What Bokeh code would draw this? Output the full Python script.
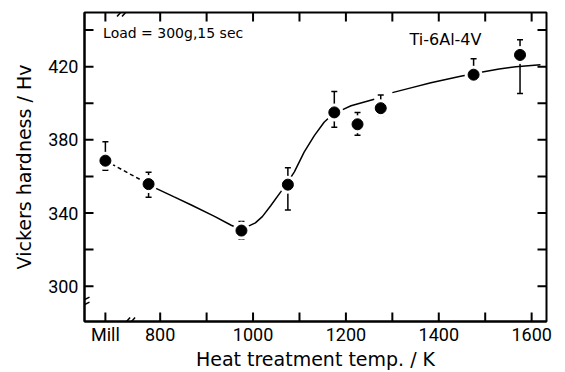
from bokeh.plotting import figure
from bokeh.models import (ColumnDataSource, FixedTicker, Range1d,
                          Whisker, TeeHead, Label)
from bokeh.embed import file_html
from bokeh.resources import INLINE

# ---------------- data ----------------
MILL_X = 682  # position of the "Mill" (as-received) category on the broken axis

temps    = [MILL_X, 775, 975, 1075, 1175, 1225, 1275, 1475, 1575]
hv       = [368.6, 355.8, 330.4, 355.5, 395.0, 388.5, 397.3, 415.6, 426.4]
hv_upper = [379.0, 362.3, 335.4, 364.8, 406.4, 395.0, 404.5, 424.3, 434.7]
hv_lower = [363.4, 348.6, 325.8, 341.7, 386.9, 382.5, 393.3, 411.6, 405.3]

# hand-drawn trend curve (solid)
NAN = float("nan")
curve_temp = [775, 791, 830, 867, 917, 953, 975, 989, 1005, 1020, 1038, 1060,
              1075, 1089, 1110, 1132, 1153, 1168, 1175, 1193, 1211, 1261, NAN,
              1300, 1340, 1383, 1447, 1497, 1530, 1566, 1619]
curve_hv = [355.8, 353.5, 348.8, 344.4, 338.2, 333.3, 330.8, 332.7, 334.6,
            338.0, 344.0, 351.7, 357.0, 362.5, 373.3, 382.3, 389.6, 393.2,
            395.0, 396.5, 398.6, 402.2, NAN, 405.8, 408.4, 411.2, 414.8,
            417.2, 418.7, 419.9, 421.1]

x_label_ticks = [MILL_X, 800, 1000, 1200, 1400, 1600]
x_tick_labels = ["Mill", "800", "1000", "1200", "1400", "1600"]
x_all_ticks = [MILL_X, 800, 900, 1000, 1100, 1200, 1300, 1400, 1500, 1600]
y_major = [300, 340, 380, 420]
y_minor = [320, 360, 400, 440]

x_lo, x_hi = 637, 1632
y_lo, y_hi = 280.7, 449.6
FRAME_W, FRAME_H = 462, 310

# ---------------- figure ----------------
p = figure(width=565, height=372, output_backend="svg", toolbar_location=None,
           x_range=Range1d(x_lo, x_hi), y_range=Range1d(y_lo, y_hi),
           min_border_left=84, min_border_right=19, min_border_top=12,
           min_border_bottom=50)
p.background_fill_color = "white"
p.border_fill_color = "white"
p.xgrid.visible = False
p.ygrid.visible = False
p.outline_line_color = "black"
p.outline_line_width = 2

TICK_FONT = "Roboto"
LABEL_FONT = "DejaVu Sans"

for ax in (p.xaxis[0], p.yaxis[0]):
    ax.axis_line_color = "black"
    ax.axis_line_width = 2
    ax.major_tick_in = 0
    ax.major_tick_out = 0
    ax.minor_tick_in = 0
    ax.minor_tick_out = 0
    ax.major_label_text_font = TICK_FONT
    ax.major_label_text_font_size = "18px"
    ax.major_label_text_color = "black"
    ax.axis_label_text_font = LABEL_FONT
    ax.axis_label_text_font_size = "19px"
    ax.axis_label_text_font_style = "normal"
    ax.axis_label_text_color = "black"

xa = p.xaxis[0]
xa.ticker = FixedTicker(ticks=x_label_ticks, minor_ticks=[])
xa.major_label_overrides = {t: l for t, l in zip(x_label_ticks, x_tick_labels)}
xa.axis_label = "Heat treatment temp. / K"
xa.major_label_standoff = 2
xa.axis_label_standoff = 0

ya = p.yaxis[0]
ya.ticker = FixedTicker(ticks=y_major, minor_ticks=[])
ya.axis_label = "Vickers hardness / Hv"
ya.major_label_standoff = 6
ya.axis_label_standoff = 10

xpx = (x_hi - x_lo) / FRAME_W   # data units per pixel (x)
ypx = (y_hi - y_lo) / FRAME_H   # data units per pixel (y)

# ---------------- inward tick marks on all four sides ----------------
TL = 9  # tick length in px
tx0, ty0, tx1, ty1 = [], [], [], []
for t in x_all_ticks:
    tx0 += [t, t]
    tx1 += [t, t]
    ty0 += [y_lo, y_hi]
    ty1 += [y_lo + TL * ypx, y_hi - TL * ypx]
for t in y_major + y_minor:
    ty0 += [t, t]
    ty1 += [t, t]
    tx0 += [x_lo, x_hi]
    tx1 += [x_lo + TL * xpx, x_hi - TL * xpx]
p.segment(x0=tx0, y0=ty0, x1=tx1, y1=ty1, line_color="black", line_width=2)

# ---------------- marks ----------------
src = ColumnDataSource(dict(t=temps, hv=hv, up=hv_upper, lo=hv_lower))

# dashed connection from mill-annealed to first treatment
p.line(x=temps[:2], y=hv[:2], line_color="black", line_width=1.5,
       line_dash="4 3")
# trend curve
p.line(x=curve_temp, y=curve_hv, line_color="black", line_width=1.5)

# white halo around the points (gaps in the curve)
p.scatter(x="t", y="hv", source=src, size=18, fill_color="white",
          line_color=None)

# error bars
w = Whisker(base="t", upper="up", lower="lo", source=src,
            line_color="black", line_width=1.5,
            upper_head=TeeHead(size=6, line_color="black", line_width=1.5),
            lower_head=TeeHead(size=6, line_color="black", line_width=1.5))
p.add_layout(w)

p.scatter(x="t", y="hv", source=src, size=11, fill_color="black",
          line_color="black", line_width=1)

# ---------------- axis break marks ----------------
bx0, bx1, by0, by1 = [], [], [], []
for cx, cy in [(733, y_lo), (720, y_hi)]:
    for off in (-2.5, 2.5):
        bx0.append(cx + (off - 3.5) * xpx)
        bx1.append(cx + (off + 3.5) * xpx)
        by0.append(cy - 4 * ypx)
        by1.append(cy + 4 * ypx)
for off in (-2.5, 2.5):
    bx0.append(x_lo - 5 * xpx)
    bx1.append(x_lo + 5 * xpx)
    by0.append(291.3 + (off - 2.5) * ypx)
    by1.append(291.3 + (off + 2.5) * ypx)
p.segment(x0=bx0, y0=by0, x1=bx1, y1=by1, line_color="black", line_width=1.5)

# ---------------- texts ----------------
p.add_layout(Label(x=677, y=438.5, text="Load = 300g,15 sec",
                   text_font=LABEL_FONT, text_font_size="14px",
                   text_color="black", text_baseline="alphabetic"))
p.add_layout(Label(x=1337, y=434.7, text="Ti-6Al-4V",
                   text_font=LABEL_FONT, text_font_size="16px",
                   text_color="black", text_baseline="alphabetic"))

open("out.html", "w").write(file_html(p, INLINE))
